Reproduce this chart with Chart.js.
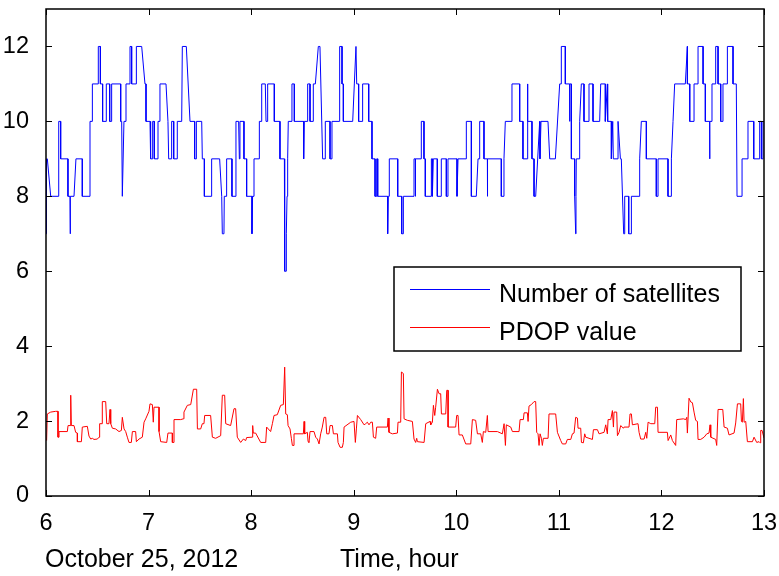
<!DOCTYPE html>
<html>
<head>
<meta charset="utf-8">
<script src="https://cdn.jsdelivr.net/npm/chart.js@4.4.0/dist/chart.umd.min.js"></script>
<style>
  html, body { margin: 0; padding: 0; background: #fff; }
</style>
</head>
<body>
<canvas id="grafico" width="779" height="576"></canvas>
<script>
// eixos
const xTicks = [6, 7, 8, 9, 10, 11, 12, 13];
const yTicks = [0, 2, 4, 6, 8, 10, 12];

// número de satélites (hora, quantidade)
const satHours = [
  6.000, 6.005, 6.013, 6.046, 6.117, 6.124, 6.143, 6.143, 6.214, 6.214,
  6.234, 6.234, 6.240, 6.273, 6.292, 6.354, 6.354, 6.429, 6.429, 6.452,
  6.452, 6.510, 6.510, 6.530, 6.530, 6.552, 6.552, 6.588, 6.588, 6.621,
  6.621, 6.640, 6.640, 6.728, 6.728, 6.738, 6.744, 6.760, 6.780, 6.780,
  6.819, 6.819, 6.835, 6.835, 6.881, 6.881, 6.933, 6.965, 6.975, 6.975,
  7.014, 7.020, 7.040, 7.040, 7.056, 7.056, 7.092, 7.092, 7.111, 7.111,
  7.170, 7.189, 7.196, 7.225, 7.225, 7.245, 7.245, 7.280, 7.280, 7.323,
  7.329, 7.368, 7.404, 7.449, 7.449, 7.466, 7.466, 7.518, 7.524, 7.544,
  7.544, 7.615, 7.615, 7.693, 7.713, 7.719, 7.735, 7.738, 7.755, 7.761,
  7.813, 7.813, 7.852, 7.852, 7.878, 7.885, 7.891, 7.930, 7.930, 7.956,
  7.956, 8.008, 8.008, 8.014, 8.028, 8.028, 8.080, 8.080, 8.103, 8.103,
  8.138, 8.145, 8.161, 8.161, 8.226, 8.226, 8.281, 8.281, 8.324, 8.324,
  8.330, 8.340, 8.343, 8.350, 8.356, 8.362, 8.398, 8.398, 8.421, 8.421,
  8.512, 8.512, 8.518, 8.551, 8.551, 8.574, 8.574, 8.606, 8.606, 8.626,
  8.655, 8.671, 8.697, 8.723, 8.723, 8.769, 8.769, 8.788, 8.788, 8.860,
  8.860, 8.866, 8.886, 8.886, 8.899, 8.899, 8.990, 9.006, 9.022, 9.029,
  9.048, 9.048, 9.087, 9.087, 9.146, 9.146, 9.178, 9.178, 9.208, 9.208,
  9.224, 9.224, 9.234, 9.234, 9.331, 9.331, 9.337, 9.347, 9.347, 9.429,
  9.429, 9.468, 9.468, 9.484, 9.484, 9.588, 9.588, 9.601, 9.601, 9.604,
  9.659, 9.659, 9.685, 9.685, 9.698, 9.698, 9.757, 9.757, 9.767, 9.767,
  9.776, 9.815, 9.815, 9.854, 9.854, 9.903, 9.903, 9.919, 9.919, 10.007,
  10.007, 10.017, 10.098, 10.098, 10.147, 10.147, 10.195, 10.212, 10.228, 10.228,
  10.270, 10.270, 10.303, 10.303, 10.306, 10.439, 10.439, 10.465, 10.465, 10.478,
  10.543, 10.543, 10.618, 10.618, 10.650, 10.650, 10.693, 10.693, 10.699, 10.738,
  10.738, 10.758, 10.758, 10.774, 10.813, 10.816, 10.826, 10.894, 10.911, 10.966,
  11.008, 11.024, 11.024, 11.063, 11.063, 11.105, 11.105, 11.108, 11.122, 11.122,
  11.154, 11.154, 11.164, 11.167, 11.170, 11.203, 11.203, 11.219, 11.245, 11.245,
  11.294, 11.294, 11.333, 11.333, 11.398, 11.408, 11.453, 11.453, 11.473, 11.476,
  11.512, 11.512, 11.525, 11.531, 11.577, 11.577, 11.600, 11.609, 11.632, 11.642,
  11.642, 11.681, 11.681, 11.707, 11.707, 11.788, 11.788, 11.804, 11.853, 11.853,
  11.950, 11.950, 11.967, 11.967, 12.064, 12.064, 12.097, 12.097, 12.113, 12.129,
  12.233, 12.253, 12.253, 12.276, 12.276, 12.318, 12.318, 12.357, 12.357, 12.406,
  12.406, 12.428, 12.428, 12.470, 12.470, 12.473, 12.493, 12.493, 12.529, 12.529,
  12.552, 12.552, 12.578, 12.578, 12.600, 12.600, 12.643, 12.643, 12.698, 12.698,
  12.730, 12.737, 12.786, 12.786, 12.844, 12.844, 12.900, 12.900, 12.958, 12.958,
  12.975, 12.975, 12.990, 12.990, 13.000
];
const satCounts = [
  7, 9, 9, 8, 8, 10, 10, 9, 9, 8,
  8, 7, 8, 8, 9, 9, 8, 8, 10, 10,
  11, 11, 12, 12, 11, 11, 10, 10, 11, 11,
  10, 10, 11, 11, 10, 10, 8, 10, 10, 11,
  11, 12, 12, 11, 11, 12, 12, 11, 11, 10,
  10, 9, 9, 10, 10, 9, 9, 10, 10, 11,
  11, 10, 9, 9, 10, 10, 9, 9, 10, 10,
  12, 12, 10, 10, 9, 9, 10, 10, 9, 9,
  8, 8, 9, 9, 8, 7, 7, 8, 8, 9,
  9, 8, 8, 10, 10, 9, 10, 10, 9, 9,
  8, 8, 7, 8, 8, 9, 9, 10, 10, 11,
  11, 10, 10, 11, 11, 10, 10, 9, 9, 7,
  6, 6, 7, 8, 9, 10, 10, 11, 11, 10,
  10, 9, 10, 10, 11, 11, 10, 10, 11, 11,
  12, 12, 9, 9, 10, 10, 9, 9, 10, 10,
  11, 12, 12, 11, 11, 10, 10, 11, 12, 11,
  11, 10, 10, 11, 11, 10, 10, 9, 9, 8,
  8, 9, 9, 8, 8, 7, 8, 8, 9, 9,
  8, 8, 7, 7, 8, 8, 9, 9, 8, 9,
  9, 10, 10, 9, 9, 8, 8, 9, 9, 8,
  9, 9, 8, 8, 9, 9, 8, 8, 9, 9,
  8, 9, 9, 10, 10, 8, 8, 9, 9, 10,
  10, 9, 9, 8, 9, 9, 8, 8, 9, 10,
  10, 11, 11, 10, 10, 9, 9, 11, 10, 10,
  9, 9, 8, 8, 10, 9, 10, 10, 9, 9,
  11, 11, 12, 12, 11, 11, 10, 11, 11, 9,
  9, 8, 7, 8, 9, 9, 10, 11, 11, 10,
  10, 11, 11, 10, 10, 11, 11, 10, 11, 10,
  10, 9, 10, 9, 9, 10, 9, 9, 7, 7,
  8, 8, 7, 7, 8, 8, 9, 10, 10, 9,
  9, 8, 8, 9, 9, 8, 8, 9, 10, 11,
  11, 12, 11, 11, 10, 10, 11, 11, 12, 12,
  11, 11, 10, 10, 9, 10, 10, 11, 11, 12,
  12, 11, 11, 10, 10, 11, 11, 12, 12, 11,
  11, 8, 8, 9, 9, 10, 10, 9, 9, 10,
  10, 9, 9, 10, 10
];

// PDOP (hora, valor)
const pdopHours = [
  6.006, 6.013, 6.046, 6.094, 6.117, 6.117, 6.127, 6.127, 6.208, 6.215,
  6.234, 6.241, 6.247, 6.273, 6.289, 6.306, 6.306, 6.345, 6.354, 6.403,
  6.419, 6.436, 6.452, 6.468, 6.501, 6.517, 6.523, 6.549, 6.549, 6.582,
  6.592, 6.614, 6.624, 6.631, 6.647, 6.679, 6.712, 6.735, 6.744, 6.761,
  6.777, 6.793, 6.809, 6.832, 6.842, 6.874, 6.881, 6.907, 6.939, 6.956,
  6.972, 7.004, 7.014, 7.037, 7.046, 7.053, 7.102, 7.102, 7.118, 7.177,
  7.189, 7.232, 7.232, 7.248, 7.248, 7.313, 7.339, 7.345, 7.378, 7.411,
  7.437, 7.469, 7.476, 7.508, 7.524, 7.540, 7.547, 7.605, 7.622, 7.654,
  7.703, 7.719, 7.742, 7.752, 7.800, 7.833, 7.849, 7.865, 7.898, 7.924,
  7.947, 7.956, 8.011, 8.015, 8.021, 8.044, 8.093, 8.142, 8.151, 8.190,
  8.207, 8.223, 8.255, 8.288, 8.314, 8.327, 8.337, 8.353, 8.360, 8.379,
  8.392, 8.402, 8.418, 8.418, 8.509, 8.516, 8.522, 8.548, 8.555, 8.564,
  8.574, 8.613, 8.629, 8.646, 8.662, 8.678, 8.694, 8.711, 8.727, 8.737,
  8.759, 8.769, 8.792, 8.802, 8.841, 8.847, 8.867, 8.889, 8.899, 8.906,
  8.971, 9.003, 9.016, 9.026, 9.036, 9.068, 9.101, 9.117, 9.133, 9.149,
  9.166, 9.182, 9.192, 9.214, 9.224, 9.328, 9.335, 9.344, 9.377, 9.426,
  9.432, 9.458, 9.465, 9.484, 9.491, 9.523, 9.572, 9.588, 9.604, 9.614,
  9.621, 9.686, 9.702, 9.744, 9.751, 9.767, 9.777, 9.790, 9.799, 9.816,
  9.832, 9.848, 9.855, 9.897, 9.907, 9.920, 9.920, 9.994, 10.004, 10.017,
  10.027, 10.059, 10.092, 10.141, 10.157, 10.189, 10.206, 10.238, 10.254, 10.264,
  10.287, 10.303, 10.310, 10.401, 10.449, 10.466, 10.479, 10.488, 10.531, 10.547,
  10.612, 10.622, 10.654, 10.661, 10.693, 10.700, 10.709, 10.732, 10.758, 10.774,
  10.784, 10.797, 10.807, 10.817, 10.830, 10.839, 10.849, 10.895, 10.904, 10.969,
  10.986, 11.018, 11.034, 11.067, 11.083, 11.116, 11.132, 11.148, 11.164, 11.181,
  11.187, 11.213, 11.220, 11.239, 11.252, 11.262, 11.327, 11.337, 11.376, 11.392,
  11.441, 11.457, 11.473, 11.480, 11.506, 11.522, 11.532, 11.538, 11.564, 11.571,
  11.587, 11.603, 11.629, 11.636, 11.684, 11.694, 11.707, 11.717, 11.772, 11.782,
  11.798, 11.831, 11.847, 11.857, 11.870, 11.896, 11.935, 11.944, 11.961, 11.967,
  12.058, 12.065, 12.091, 12.107, 12.139, 12.149, 12.214, 12.237, 12.247, 12.253,
  12.269, 12.286, 12.302, 12.318, 12.334, 12.351, 12.357, 12.383, 12.416, 12.442,
  12.464, 12.474, 12.481, 12.529, 12.539, 12.552, 12.598, 12.611, 12.643, 12.659,
  12.708, 12.724, 12.741, 12.773, 12.780, 12.789, 12.799, 12.806, 12.822, 12.838,
  12.887, 12.903, 12.929, 12.952, 12.962, 12.968, 12.981, 13.000
];
const pdopValues = [
  1.48, 2.19, 2.24, 2.26, 2.26, 1.57, 1.57, 1.72, 1.72, 1.88,
  1.88, 2.69, 1.88, 1.88, 1.70, 1.68, 1.45, 1.45, 1.84, 1.86,
  1.60, 1.52, 1.54, 1.51, 1.52, 1.57, 1.93, 1.93, 2.52, 2.52,
  1.93, 1.93, 2.31, 1.93, 1.81, 1.79, 1.72, 1.75, 2.10, 1.79,
  1.72, 1.57, 1.43, 1.43, 1.72, 1.72, 1.45, 1.52, 1.57, 1.97,
  2.06, 2.26, 2.46, 2.44, 1.97, 2.37, 2.37, 1.72, 1.45, 1.43,
  1.68, 1.68, 1.43, 1.43, 2.04, 2.04, 2.06, 2.24, 2.42, 2.44,
  2.85, 2.85, 1.79, 1.79, 1.93, 1.93, 2.15, 2.15, 1.57, 1.54,
  1.61, 2.69, 2.69, 1.93, 1.88, 2.33, 2.33, 1.57, 1.43, 1.52,
  1.48, 1.56, 1.57, 1.88, 1.68, 1.68, 1.43, 1.43, 1.84, 1.72,
  1.93, 2.15, 2.17, 2.42, 2.44, 3.44, 2.19, 2.17, 1.88, 1.79,
  1.54, 1.35, 1.35, 1.66, 1.66, 1.99, 1.66, 1.70, 1.45, 1.43,
  1.72, 1.72, 1.57, 1.52, 1.39, 1.66, 1.84, 2.10, 2.10, 1.66,
  1.66, 1.88, 1.88, 1.66, 1.66, 1.43, 1.30, 1.30, 1.43, 1.84,
  1.97, 1.99, 1.43, 1.79, 2.15, 2.04, 1.90, 1.93, 1.97, 1.90,
  1.97, 1.97, 1.57, 1.54, 1.84, 1.84, 2.08, 1.70, 1.66, 1.68,
  1.97, 1.97, 3.31, 3.27, 2.06, 2.02, 1.99, 1.52, 1.43, 1.54,
  1.45, 1.43, 1.93, 1.99, 1.90, 1.97, 2.42, 2.15, 2.37, 2.85,
  2.73, 2.73, 2.19, 2.19, 2.82, 2.82, 1.84, 1.84, 2.15, 2.15,
  1.63, 1.63, 1.39, 1.39, 2.04, 2.02, 1.66, 1.66, 1.43, 1.72,
  1.70, 2.15, 1.72, 1.72, 1.66, 1.93, 1.35, 1.90, 1.84, 1.72,
  1.72, 2.04, 2.04, 2.22, 2.22, 1.99, 2.40, 2.44, 2.52, 2.52,
  1.70, 1.66, 1.35, 1.66, 1.54, 1.35, 1.54, 1.54, 2.19, 2.19,
  1.70, 1.48, 1.39, 1.39, 1.51, 1.51, 1.66, 1.68, 2.10, 2.08,
  1.81, 1.81, 1.43, 1.42, 1.66, 1.57, 1.51, 1.77, 1.77, 1.66,
  1.70, 1.90, 1.66, 2.04, 2.04, 2.28, 1.84, 2.24, 2.24, 1.61,
  1.70, 1.88, 1.81, 1.84, 1.84, 2.19, 2.19, 1.90, 1.93, 1.70,
  1.52, 1.52, 1.70, 1.54, 1.97, 1.93, 1.93, 2.37, 2.37, 1.70,
  1.70, 1.48, 1.63, 1.48, 1.35, 2.04, 2.06, 2.04, 2.10, 1.68,
  2.61, 2.51, 2.49, 2.24, 2.02, 1.99, 1.51, 1.51, 1.57, 1.66,
  1.68, 1.90, 1.57, 1.51, 1.35, 2.31, 2.31, 1.84, 1.81, 1.63,
  1.68, 1.95, 2.46, 2.46, 1.99, 1.97, 2.60, 1.97, 1.99, 1.45,
  1.45, 1.57, 1.43, 1.45, 1.42, 1.75, 1.75, 1.55
];

const COR_SAT = "#0000ff";
const COR_PDOP = "#ff0000";
const FONTE = '"Liberation Sans", Arial, sans-serif';

function pontos(xs, ys) {
  return xs.map((x, i) => ({ x: x, y: ys[i] }));
}

// moldura com marcas para dentro, legenda em caixa e textos de baixo
const moldura = {
  id: "moldura",
  afterDraw(chart) {
    const ctx = chart.ctx;
    const a = chart.chartArea;
    const sx = chart.scales.x;
    const sy = chart.scales.y;
    const tam = 6;

    ctx.save();
    ctx.strokeStyle = "#000";
    ctx.lineWidth = 1.5;
    ctx.strokeRect(a.left, a.top, a.right - a.left, a.bottom - a.top);

    ctx.lineWidth = 1;
    ctx.beginPath();
    xTicks.forEach((v) => {
      const px = Math.round(sx.getPixelForValue(v)) + 0.5;
      ctx.moveTo(px, a.bottom);
      ctx.lineTo(px, a.bottom - tam);
      ctx.moveTo(px, a.top);
      ctx.lineTo(px, a.top + tam);
    });
    yTicks.forEach((v) => {
      const py = Math.round(sy.getPixelForValue(v)) + 0.5;
      ctx.moveTo(a.left, py);
      ctx.lineTo(a.left + tam, py);
      ctx.moveTo(a.right, py);
      ctx.lineTo(a.right - tam, py);
    });
    ctx.stroke();

    // legenda
    const lx = 394, ly = 267, lw = 347, lh = 84;
    ctx.fillStyle = "#fff";
    ctx.fillRect(lx, ly, lw, lh);
    ctx.lineWidth = 1.5;
    ctx.strokeStyle = "#000";
    ctx.strokeRect(lx, ly, lw, lh);

    const cores = [COR_SAT, COR_PDOP];
    ctx.font = "25px " + FONTE;
    ctx.textBaseline = "alphabetic";
    ctx.textAlign = "left";
    chart.data.datasets.forEach((ds, i) => {
      const yLinha = 289.5 + i * 38;
      ctx.beginPath();
      ctx.strokeStyle = cores[i];
      ctx.lineWidth = 1.2;
      ctx.moveTo(410, yLinha);
      ctx.lineTo(490, yLinha);
      ctx.stroke();
      ctx.fillStyle = "#000";
      ctx.fillText(ds.label, 499, 301.5 + i * 38);
    });

    // data e rótulo do eixo x
    ctx.fillStyle = "#000";
    ctx.fillText("October 25, 2012", 45, 567);
    ctx.fillText("Time, hour", 340, 567);
    ctx.restore();
  }
};

const ctx = document.getElementById("grafico").getContext("2d");
const grafico = new Chart(ctx, {
  type: "line",
  data: {
    datasets: [
      {
        label: "Number of satellites",
        data: pontos(satHours, satCounts),
        borderColor: COR_SAT,
        borderWidth: 1,
        pointRadius: 0,
        tension: 0,
      },
      {
        label: "PDOP value",
        data: pontos(pdopHours, pdopValues),
        borderColor: COR_PDOP,
        borderWidth: 1,
        pointRadius: 0,
        tension: 0,
      },
    ],
  },
  options: {
    responsive: false,
    animation: false,
    devicePixelRatio: 1,
    layout: { padding: { left: 0, top: 9, right: 15, bottom: 0 } },
    plugins: {
      legend: { display: false },
      tooltip: { enabled: false },
    },
    scales: {
      x: {
        type: "linear",
        min: 6,
        max: 13,
        grid: { display: false },
        border: { display: false },
        afterBuildTicks: (s) => { s.ticks = xTicks.map((v) => ({ value: v })); },
        afterFit: (s) => {
          s.height = 80;
          s.paddingLeft = 0;
          s.paddingRight = 0;
        },
        ticks: {
          color: "#000",
          padding: 5,
          maxRotation: 0,
          font: { family: FONTE, size: 23.5 },
        },
      },
      y: {
        type: "linear",
        min: 0,
        max: 13,
        grid: { display: false },
        border: { display: false },
        afterBuildTicks: (s) => { s.ticks = yTicks.map((v) => ({ value: v })); },
        afterFit: (s) => {
          s.width = 46;
          s.paddingTop = 0;
          s.paddingBottom = 0;
        },
        ticks: {
          color: "#000",
          padding: 9,
          font: { family: FONTE, size: 23.5 },
        },
      },
    },
  },
  plugins: [moldura],
});
</script>
</body>
</html>
